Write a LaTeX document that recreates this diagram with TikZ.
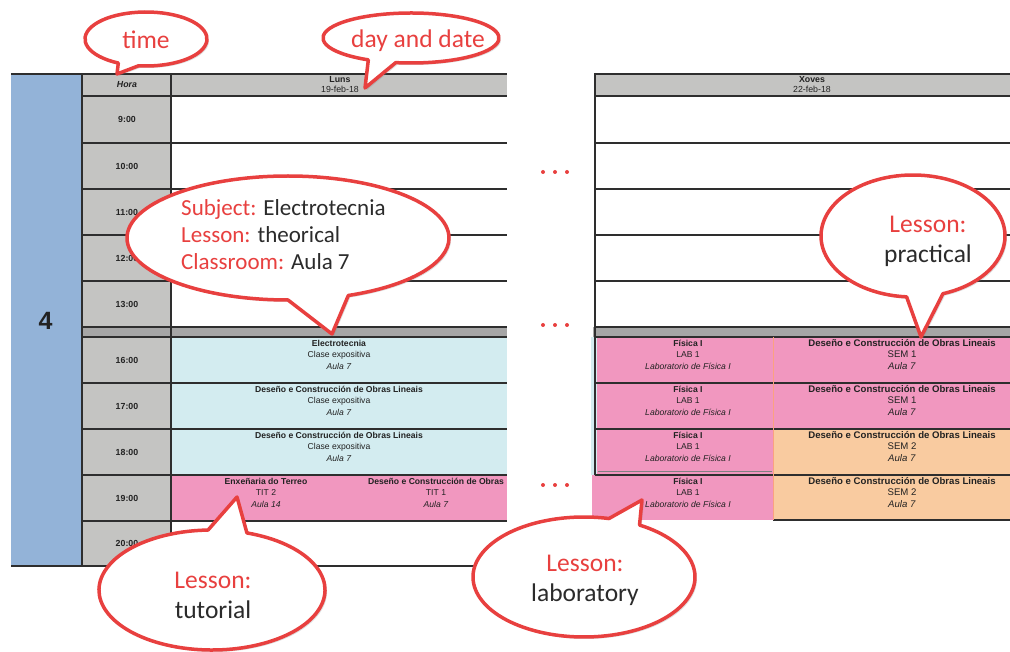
\documentclass[tikz,border=0pt]{standalone}
\usepackage{fontspec}
\setmainfont{Liberation Sans}
\newfontfamily\callfont{Carlito}
\usetikzlibrary{shadows}
\definecolor{bluecol}{HTML}{93B3D8}
\definecolor{greyc}{HTML}{C4C4C2}
\definecolor{lunchc}{HTML}{A6A6A6}
\definecolor{cellblue}{HTML}{D3ECF0}
\definecolor{pinkc}{HTML}{F197BF}
\definecolor{orangec}{HTML}{F9CBA0}
\definecolor{linec}{HTML}{2E2E2E}
\definecolor{txtc}{HTML}{222222}
\definecolor{callred}{HTML}{E8403F}
\definecolor{calltxt}{HTML}{2B2B2B}
\newcommand\mycallout[8]{%
  \path[callshape] (#7,#8) -- ({#1+#3*cos(#5)},{#2+#4*sin(#5)})
    arc[start angle=#5, end angle=#6, x radius=#3, y radius=#4] -- cycle;}
\tikzset{
 gridline/.style={draw=linec, line width=1.5pt},
 cellt/.style={font=\fontsize{8.6}{11.5}\selectfont, align=center, inner sep=0pt, text=txtc},
 cellr/.style={cellt, font=\fontsize{9.6}{11.5}\selectfont},
 timet/.style={font=\bfseries\fontsize{8.8}{10}\selectfont, inner sep=0pt, text=txtc},
 callshape/.style={draw=callred, line width=3.5pt, fill=white, line join=round,
   drop shadow={shadow xshift=2pt, shadow yshift=-2pt, opacity=0.25}},
 calltext/.style={font=\callfont\fontsize{25.5}{30}\selectfont, align=center, inner sep=0pt, text=calltxt},
}
\begin{document}
\begin{tikzpicture}[x=1pt,y=-1pt]
\useasboundingbox (0,0) rectangle (1010,652);
% ---------- left table fills
\fill[bluecol] (11,74) rectangle (82,566);
\fill[greyc] (82,74) rectangle (171,566);
\fill[greyc] (171,74) rectangle (507,96);
\fill[lunchc] (82,327) rectangle (507,337);
\fill[cellblue] (171,337) rectangle (507,475);
\fill[pinkc] (171,475) rectangle (507,521);
% ---------- left table lines
\foreach \yy in {96,143,189,235,281,327,337,383,429,475,521}
  \draw[gridline] (82,\yy) -- (507,\yy);
\draw[gridline] (11,74) -- (507,74);
\draw[gridline] (11,566) -- (507,566);
\draw[gridline] (82,74) -- (82,566);
\draw[gridline] (171,74) -- (171,566);
% ---------- right table fills
\fill[greyc] (595,74) rectangle (1010,96);
\fill[lunchc] (593,327) rectangle (1010,337);
\fill[cellblue] (591,337) rectangle (597,475);
\fill[pinkc] (597,337) rectangle (773,475);
\fill[pinkc] (592,475) rectangle (773,520);
\fill[pinkc] (773,337) rectangle (1010,429);
\fill[orangec] (773,429) rectangle (1010,520);
% ---------- right table lines
\foreach \yy in {74,96,143,189,235,281,327,337,383,429,475}
  \draw[gridline] (595,\yy) -- (1010,\yy);
\draw[gridline] (773,520) -- (1010,520);
\draw[gridline] (595,73) -- (595,475);
\draw[draw=orangec!80!red, line width=0.8pt] (773,337) -- (773,520);
\draw[draw=gray, line width=0.7pt] (598,471) -- (772,471);
% ---------- texts
\node[font=\bfseries\fontsize{25}{25}\selectfont, text=txtc, inner sep=0pt] (four) at (45.5,321) {4};
\node[font=\bfseries\itshape\fontsize{8.8}{10}\selectfont, text=txtc, inner sep=0pt] (hora) at (127,85) {Hora};
\node[cellt, font=\fontsize{8.8}{10}\selectfont] (luns) at (340,85) {\textbf{Luns}\\19-feb-18};
\node[cellt, font=\fontsize{8.8}{10}\selectfont] (xoves) at (812,85) {\textbf{Xoves}\\22-feb-18};
\node[timet] (t9) at (127,119) {9:00};
\node[timet] (t10) at (127,166) {10:00};
\node[timet] (t11) at (127,212) {11:00};
\node[timet] (t12) at (127,258) {12:00};
\node[timet] (t13) at (127,304) {13:00};
\node[timet] (t16) at (127,360) {16:00};
\node[timet] (t17) at (127,406) {17:00};
\node[timet] (t18) at (127,452) {18:00};
\node[timet] (t19) at (127,498) {19:00};
\node[timet] (t20) at (127,543) {20:00};
\node[cellt] (l16) at (339,354.5) {\textbf{Electrotecnia}\\Clase expositiva\\\textit{Aula 7}};
\node[cellt] (l17) at (339,400.5) {\textbf{Deseño e Construcción de Obras Lineais}\\Clase expositiva\\\textit{Aula 7}};
\node[cellt] (l18) at (339,446.5) {\textbf{Deseño e Construcción de Obras Lineais}\\Clase expositiva\\\textit{Aula 7}};
\node[cellt] (l19a) at (266,492.5) {\textbf{Enxeñaria do Terreo}\\TIT 2\\\textit{Aula 14}};
\node[cellt] (l19b) at (436,492.5) {\textbf{Deseño e Construcción de Obras}\\TIT 1\\\textit{Aula 7}};
\foreach \yy/\nm in {354.5/16,400.5/17,446.5/18,492.5/19}
  \node[cellt] (f\nm) at (688,\yy) {\textbf{Física I}\\LAB 1\\\textit{Laboratorio de Física I}};
\node[cellr] (d16) at (902,354.5) {\textbf{Deseño e Construcción de Obras Lineais}\\SEM 1\\\textit{Aula 7}};
\node[cellr] (d17) at (902,400.5) {\textbf{Deseño e Construcción de Obras Lineais}\\SEM 1\\\textit{Aula 7}};
\node[cellr] (d18) at (902,446.5) {\textbf{Deseño e Construcción de Obras Lineais}\\SEM 2\\\textit{Aula 7}};
\node[cellr] (d19) at (902,492.5) {\textbf{Deseño e Construcción de Obras Lineais}\\SEM 2\\\textit{Aula 7}};
% ---------- ellipsis dots
\foreach \yy in {172,325,485}
  \foreach \xx in {543,555,567}
    \fill[callred] (\xx,\yy) circle[radius=2];
% ---------- callouts
\mycallout{146}{39}{61}{27}{117}{457}{117}{74}
\node[calltext, text=callred] (ctime) at (146,40) {time};
\mycallout{411}{38}{88}{25}{119}{460}{365}{88}
\node[calltext, text=callred] (cday) at (418,41) {day and date};
\mycallout{288}{238}{161}{62}{90}{428}{332}{334}
\node[calltext, align=left, anchor=west, font=\callfont\fontsize{23}{27}\selectfont] (csubj) at (181,235)
  {\textcolor{callred}{Subject:} Electrotecnia\\\textcolor{callred}{Lesson:} theorical\\\textcolor{callred}{Classroom:} Aula 7};
\mycallout{913}{236}{92}{61}{94}{431}{921}{337}
\node[calltext] (cprac) at (928,241) {\textcolor{callred}{Lesson:}\\practical};
\mycallout{212}{590}{113}{60}{288}{628}{237}{497}
\node[calltext] (ctut) at (213,595) {\textcolor{callred}{Lesson:}\\tutorial};
\mycallout{584}{577}{111}{60}{300}{643}{642}{500}
\node[calltext] (clab) at (585,580) {\textcolor{callred}{Lesson:}\\laboratory};
\end{tikzpicture}
\end{document}
